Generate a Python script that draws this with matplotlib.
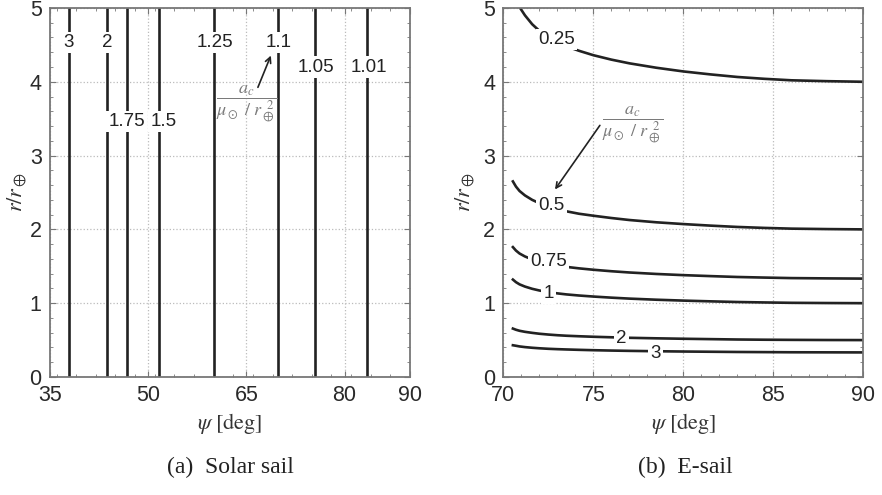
import matplotlib
matplotlib.use("Agg")
import matplotlib.pyplot as plt
from matplotlib.ticker import MultipleLocator

plt.rcParams["font.family"] = "Liberation Sans"
plt.rcParams["mathtext.fontset"] = "stix"

# solar sail: iso-acceleration lines are vertical in (psi, r)
solar_levels = ["3", "2", "1.75", "1.5", "1.25", "1.1", "1.05", "1.01"]
solar_psi = [37.9, 43.7, 46.8, 51.65, 60.1, 69.9, 75.5, 83.5]
solar_label_psi = [37.9, 43.7, 46.7, 52.3, 60.2, 69.9, 75.6, 83.7]
solar_label_r = [4.53, 4.53, 3.46, 3.46, 4.53, 4.53, 4.20, 4.20]

# e-sail: r/r_earth along each iso-acceleration curve
esail_psi = [70.53, 70.7, 70.9, 71.2, 71.6, 72.0, 72.5, 73.0, 73.5, 74.2, 75.0,
             76.0, 77.0, 78.5, 80.0, 81.5, 83.0, 84.5, 86.0, 88.0, 90.0]
esail_levels = ["0.25", "0.5", "0.75", "1", "2", "3"]
esail_r = {
    "0.25": [None, None, None, 4.90, 4.78, 4.69, 4.60, 4.53, 4.48, 4.42, 4.36,
             4.30, 4.25, 4.19, 4.14, 4.10, 4.065, 4.04, 4.02, 4.008, 4.0],
    "0.5":  [2.65, 2.58, 2.52, 2.46, 2.40, 2.355, 2.31, 2.275, 2.245, 2.212, 2.185,
             2.154, 2.127, 2.096, 2.072, 2.051, 2.033, 2.02, 2.01, 2.004, 2.0],
    "0.75": [1.76, 1.713, 1.673, 1.633, 1.593, 1.563, 1.533, 1.511, 1.492, 1.472, 1.453,
             1.433, 1.416, 1.396, 1.38, 1.367, 1.355, 1.347, 1.34, 1.336, 1.333],
    "1":    [1.32, 1.285, 1.255, 1.225, 1.195, 1.172, 1.15, 1.133, 1.119, 1.104, 1.09,
             1.075, 1.062, 1.047, 1.035, 1.025, 1.016, 1.01, 1.005, 1.002, 1.0],
    "2":    [0.656, 0.64, 0.626, 0.612, 0.598, 0.586, 0.575, 0.566, 0.559, 0.552, 0.545,
             0.538, 0.531, 0.524, 0.518, 0.513, 0.508, 0.505, 0.503, 0.501, 0.5],
    "3":    [0.43, 0.423, 0.414, 0.405, 0.396, 0.389, 0.382, 0.377, 0.373, 0.368, 0.363,
             0.358, 0.354, 0.349, 0.345, 0.342, 0.339, 0.337, 0.335, 0.334, 0.333],
}
# the 0.25 curve enters the plot through the top edge
esail_top_entry = (70.93, 5.0)
esail_label_pos = {
    "0.25": (72.97, 4.57), "0.5": (72.69, 2.33), "0.75": (72.5, 1.56),
    "1": (72.5, 1.13), "2": (76.54, 0.52), "3": (78.43, 0.32),
}

frac_text = r"$\dfrac{a_c}{\mu_\odot\ /\ r_\oplus^{\ \,2}}$"
line_c = "#222222"
label_box = dict(boxstyle="square,pad=0.12", facecolor="white", edgecolor="none")


def format_axes(ax, xlim, xmajor, xminor, ylab_x):
    ax.set_xlim(xlim)
    ax.set_ylim(0, 5)
    ax.set_xticks(xmajor)
    ax.xaxis.set_minor_locator(MultipleLocator(xminor))
    ax.yaxis.set_major_locator(MultipleLocator(1))
    ax.yaxis.set_minor_locator(MultipleLocator(0.2))
    ax.tick_params(which="both", direction="in", top=True, right=True, color="#777777")
    ax.tick_params(which="major", length=4, labelsize=15.5, labelcolor="#2a2a2a", pad=6)
    ax.tick_params(which="minor", length=2.5)
    ax.grid(True, which="major", linestyle=":", color="#bbbbbb", lw=0.9)
    ax.set_axisbelow(True)
    for s in ax.spines.values():
        s.set_color("#777777")
        s.set_linewidth(1.3)
    ax.set_xlabel(r"$\psi\ [\mathrm{deg}]$", fontsize=16, color="#333333")
    ax.xaxis.set_label_coords(0.5, -0.093)
    ax.set_ylabel(r"$r/r_\oplus$", fontsize=16, color="#333333")
    ax.yaxis.set_label_coords(ylab_x, 0.5)


fig = plt.figure(figsize=(8.82, 4.95), dpi=100)
ax1 = fig.add_axes([0.0567, 0.2384, 0.4082, 0.7455])
ax2 = fig.add_axes([0.5707, 0.2384, 0.4082, 0.7455])

# solar sail
for psi in solar_psi:
    ax1.axvline(psi, color=line_c, lw=1.9, zorder=2)
for lev, lx, ly in zip(solar_levels, solar_label_psi, solar_label_r):
    ax1.text(lx, ly, lev, ha="center", va="center", fontsize=13.5, color="#222222",
             bbox=label_box, zorder=3)
ax1.text(65.05, 3.70, frac_text, ha="center", va="center", fontsize=13, color="#7a7a7a", zorder=3)
ax1.annotate("", xy=(68.9, 4.39), xytext=(66.6, 3.89),
             arrowprops=dict(arrowstyle="->", color="#222222", lw=1.2), zorder=4)
format_axes(ax1, (35, 90), [35, 50, 65, 80, 90], 3, -0.06)

# e-sail
for lev in esail_levels:
    pts = [(p, r) for p, r in zip(esail_psi, esail_r[lev]) if r is not None]
    if lev == "0.25":
        pts = [esail_top_entry] + pts
    xs, ys = zip(*pts)
    ax2.plot(xs, ys, color=line_c, lw=1.9, zorder=2)
    lx, ly = esail_label_pos[lev]
    ax2.text(lx, ly, lev, ha="center", va="center", fontsize=13.5, color="#222222",
             bbox=label_box, zorder=3)
ax2.text(77.22, 3.41, frac_text, ha="center", va="center", fontsize=13, color="#7a7a7a", zorder=3)
ax2.annotate("", xy=(72.78, 2.51), xytext=(75.45, 3.44),
             arrowprops=dict(arrowstyle="->", color="#222222", lw=1.2), zorder=4)
format_axes(ax2, (70, 90), [70, 75, 80, 85, 90], 1, -0.077)

# captions
fig.text(0.261, 0.056, "(a)  Solar sail", ha="center", va="center", fontsize=17,
         family="Liberation Serif", color="#222222")
fig.text(0.777, 0.056, "(b)  E-sail", ha="center", va="center", fontsize=17,
         family="Liberation Serif", color="#222222")

fig.savefig("out.png", dpi=100)
